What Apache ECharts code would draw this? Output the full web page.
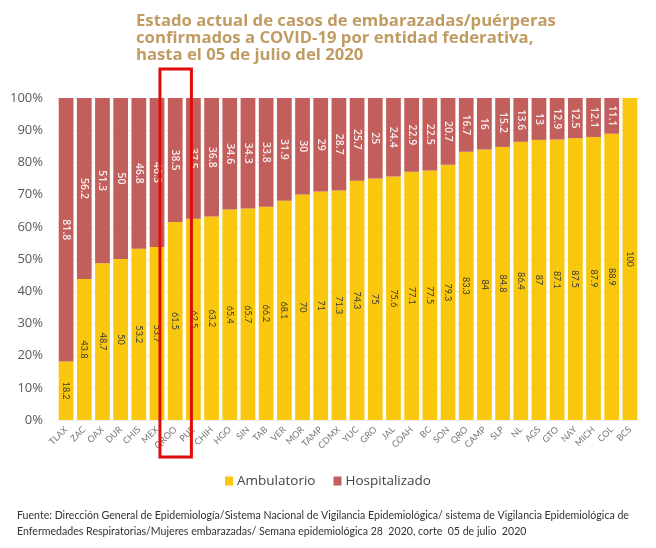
<!DOCTYPE html>
<html>
<head>
<meta charset="utf-8">
<script src="https://cdn.jsdelivr.net/npm/echarts@6/dist/echarts.min.js"></script>
<style>
  html, body { margin: 0; padding: 0; background: #fff; }
  #chart { width: 656px; height: 548px; }
</style>
</head>
<body>
<div id="chart"></div>
<script>
// casos de embarazadas/puérperas por entidad
const estados = ['TLAX', 'ZAC', 'OAX', 'DUR', 'CHIS', 'MEX', 'QROO', 'PUE', 'CHIH', 'HGO', 'SIN', 'TAB',
  'VER', 'MOR', 'TAMP', 'CDMX', 'YUC', 'GRO', 'JAL', 'COAH', 'BC', 'SON', 'QRO', 'CAMP', 'SLP', 'NL',
  'AGS', 'GTO', 'NAY', 'MICH', 'COL', 'BCS'];
const ambulatorio = [18.2, 43.8, 48.7, 50, 53.2, 53.7, 61.5, 62.5, 63.2, 65.4, 65.7, 66.2,
  68.1, 70, 71, 71.3, 74.3, 75, 75.6, 77.1, 77.5, 79.3, 83.3, 84, 84.8, 86.4,
  87, 87.1, 87.5, 87.9, 88.9, 100];
const hospitalizado = [81.8, 56.2, 51.3, 50, 46.8, 46.3, 38.5, 37.5, 36.8, 34.6, 34.3, 33.8,
  31.9, 30, 29, 28.7, 25.7, 25, 24.4, 22.9, 22.5, 20.7, 16.7, 16, 15.2, 13.6,
  13, 12.9, 12.5, 12.1, 11.1, 0];
const marcados = ['QROO', 'PUE'];

const titulo = 'Estado actual de casos de embarazadas/puérperas\nconfirmados a COVID-19 por entidad federativa,\nhasta el 05 de julio del 2020';
const fuente = 'Fuente: Dirección General de Epidemiología/Sistema Nacional de Vigilancia Epidemiológica/ sistema de Vigilancia Epidemiológica de\nEnfermedades Respiratorias/Mujeres embarazadas/ Semana epidemiológica 28  2020, corte  05 de julio  2020';

function renderChart() {
  const dom = document.getElementById('chart');
  const chart = echarts.init(dom);
  const option = {
    animation: false,
    title: [
      {
        text: titulo,
        left: 131,
        top: 8,
        textStyle: {
          fontFamily: 'Open Sans',
          fontWeight: 'bold',
          fontSize: 16.7,
          lineHeight: 17,
          color: '#c09c63'
        }
      },
      {
        text: fuente,
        left: 12,
        top: 503,
        textStyle: {
          fontFamily: 'Lato',
          fontWeight: 'normal',
          fontSize: 10.6,
          lineHeight: 16,
          color: '#333'
        }
      }
    ],
    legend: {
      data: ['Ambulatorio', 'Hospitalizado'],
      left: 'center',
      top: 469,
      itemWidth: 8,
      itemHeight: 9,
      itemGap: 18,
      icon: 'rect',
      textStyle: {
        fontFamily: 'Open Sans',
        fontSize: 13.5,
        color: '#444',
        padding: [0, 0, 0, -1]
      }
    },
    grid: {
      left: 57,
      right: 17,
      top: 98,
      bottom: 128
    },
    xAxis: {
      type: 'category',
      data: estados,
      axisLine: {show: false},
      axisTick: {show: false},
      axisLabel: {
        rotate: 45,
        fontFamily: 'Lato',
        fontSize: 9,
        color: '#777',
        margin: 8,
        interval: 0
      }
    },
    yAxis: {
      type: 'value',
      min: 0,
      max: 100,
      interval: 10,
      axisLabel: {
        formatter: '{value}%',
        fontFamily: 'Open Sans',
        fontSize: 13,
        color: '#595959',
        margin: 14
      },
      splitLine: {lineStyle: {color: '#eeeeee'}}
    },
    series: [
      {
        name: 'Ambulatorio',
        type: 'bar',
        stack: 'total',
        data: ambulatorio,
        barCategoryGap: '19%',
        itemStyle: {color: '#f9c80e'},
        label: {
          show: true,
          position: 'inside',
          rotate: -90,
          fontFamily: 'Lato',
          fontSize: 9,
          color: '#3a3a3a'
        }
      },
      {
        name: 'Hospitalizado',
        type: 'bar',
        stack: 'total',
        data: hospitalizado,
        itemStyle: {color: '#c25f5d'},
        label: {
          show: true,
          position: 'inside',
          rotate: -90,
          fontFamily: 'Open Sans',
          fontWeight: 600,
          fontSize: 10.5,
          color: '#f7ecec',
          formatter: p => (p.value ? p.value : '')
        }
      }
    ]
  };
  chart.setOption(option, true);

  // recuadro rojo sobre QROO y PUE
  const a = chart.convertToPixel({xAxisIndex: 0}, marcados[0]);
  const b = chart.convertToPixel({xAxisIndex: 0}, marcados[1]);
  const paso = b - a;
  chart.setOption({
    graphic: [{
      type: 'rect',
      shape: {x: a - paso * 0.84, y: 69, width: paso * 1.73, height: 388},
      style: {fill: 'none', stroke: '#e00b0b', lineWidth: 3},
      z: 100
    }]
  });
}
renderChart();
</script>
</body>
</html>
